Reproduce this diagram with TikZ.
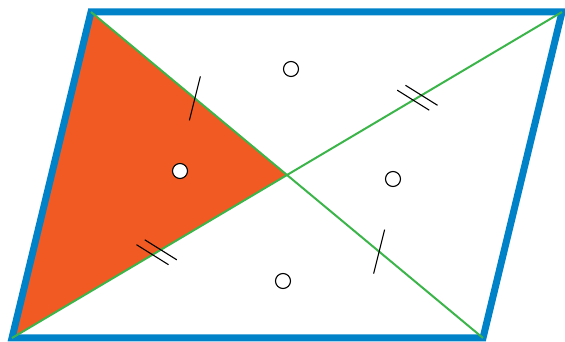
\documentclass[tikz,border=0pt]{standalone}
\usepackage{tikz}
\usetikzlibrary{calc}

\definecolor{frameblue}{RGB}{0,130,200}
\definecolor{triorange}{RGB}{241,90,34}
\definecolor{diaggreen}{RGB}{59,181,74}

\tikzset{
  anglemark/.style={circle, draw=black, line width=1.1pt, fill=white, minimum size=15pt, inner sep=0pt},
  tick/.style={black, line width=1.1pt}
}

\begin{document}
\begin{tikzpicture}[x=1pt,y=1pt]
\useasboundingbox (0,0) rectangle (565,342);
\coordinate (A) at (91,330);
\coordinate (B) at (562,330);
\coordinate (C) at (483,4);
\coordinate (D) at (12,4);
\coordinate (O) at (287,167);
\fill[triorange] (A) -- (D) -- (O) -- cycle;
\draw[frameblue, line width=7pt, line join=miter] (A) -- (B) -- (C) -- (D) -- cycle;
\draw[diaggreen, line width=2pt] (A) -- (C);
\draw[diaggreen, line width=2pt] (D) -- (B);
% single ticks on A--C
\draw[tick] ($(A)!0.265!(C)+(-5.5,-22)$) -- ($(A)!0.265!(C)+(5.5,22)$);
\draw[tick] ($(A)!0.735!(C)+(-5.5,-22)$) -- ($(A)!0.735!(C)+(5.5,22)$);
% double ticks on D--B
\foreach \t in {0.2555,0.2705,0.7295,0.7445}
  \draw[tick] ($(D)!\t!(B)+(-16,10)$) -- ($(D)!\t!(B)+(16,-10)$);
\node[anglemark] (m1) at (291,273) {};
\node[anglemark] (m2) at (180,171) {};
\node[anglemark] (m3) at (393,163) {};
\node[anglemark] (m4) at (283,61) {};
\end{tikzpicture}
\end{document}
